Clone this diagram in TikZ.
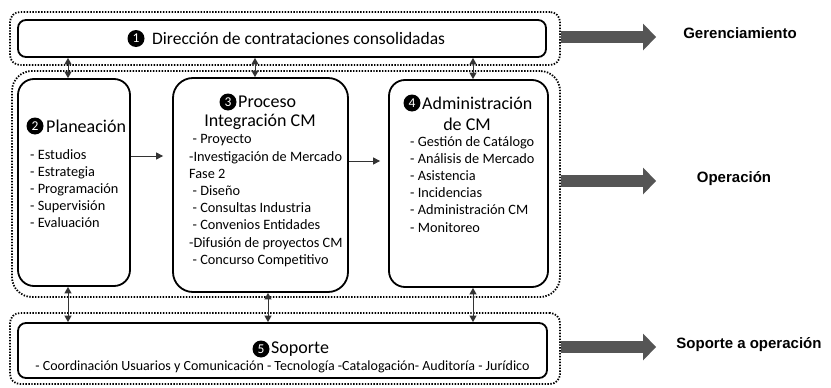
\documentclass[tikz,border=0pt]{standalone}
\usepackage{fontspec}
\setmainfont{Carlito}
\newfontfamily\labfont{Liberation Sans}
\usetikzlibrary{arrows.meta,calc}
\definecolor{arrgray}{HTML}{555555}
\definecolor{lnk}{HTML}{333333}
\begin{document}
\begin{tikzpicture}[x=1pt,y=-1pt,
  solidbox/.style={draw=black,line width=1.8pt,rounded corners=#1,inner sep=0pt},
  solidbox/.default=8pt,
  dotbox/.style={draw=black,line width=1.8pt,dash pattern=on 1.4pt off 1.5pt,rounded corners=#1,inner sep=0pt},
  dotbox/.default=10pt,
  numc/.style={circle,fill=black,text=white,inner sep=0pt,minimum size=17pt,font=\fontsize{13.5}{13.5}\selectfont},
  headtxt/.style={inner sep=0pt,font=\fontsize{18}{21}\selectfont},
  itemtxt/.style={inner sep=0pt,align=left,font=\fontsize{14.3}{17.2}\selectfont},
  dbl/.style={line width=1pt,draw=lnk,{Triangle[length=6.5pt,width=7pt]}-{Triangle[length=6.5pt,width=7pt]}},
  harr/.style={line width=1pt,draw=lnk,-{Triangle[length=7pt,width=7pt]}},
  bigarr/.style={line width=12pt,draw=arrgray,-{Triangle[length=13pt,width=27pt,line width=0pt]}},
  lab/.style={inner sep=0pt,font=\labfont\bfseries\fontsize{15}{18}\selectfont}
]
\useasboundingbox (0,0) rectangle (831,388);
\fill[white] (0,0) rectangle (831,388);

% dotted group boxes
\node[dotbox] (topdot) at (285,38.5) [minimum width=550pt,minimum height=53pt] {};
\node[dotbox=20pt] (middot) at (286,184) [minimum width=548pt,minimum height=226pt] {};
\node[dotbox] (botdot) at (285,348.5) [minimum width=550pt,minimum height=71pt] {};

% solid boxes
\node[solidbox] (top) at (282,38.5) [minimum width=528pt,minimum height=37pt] {};
\node[solidbox=16pt] (plan) at (74,182.5) [minimum width=112pt,minimum height=207pt] {};
\node[solidbox=20pt] (proc) at (260.5,185) [minimum width=175pt,minimum height=214pt] {};
\node[solidbox=16pt] (adm) at (468.5,183.5) [minimum width=159pt,minimum height=207pt] {};
\node[solidbox] (sop) at (282.5,350.5) [minimum width=529pt,minimum height=55pt] {};

% box 1
\node[numc] (n1) at (136,38.5) {1};
\node[headtxt,anchor=west,font=\fontsize{17.5}{21}\selectfont] (t1) at (152,38.5) {Dirección de contrataciones consolidadas};

% box 2
\node[numc] (n2) at (35,126) {2};
\node[headtxt,anchor=west] (t2) at (46,126) {Planeación};
\node[itemtxt,anchor=north west] (l2) at (30,149) {- Estudios\\- Estrategia\\- Programación\\- Supervisión\\- Evaluación};

% box 3
\node[numc] (n3) at (228,102) {3};
\node[headtxt,anchor=west] (t3) at (238,102) {Proceso};
\node[headtxt] (t3b) at (260,122) {Integración CM};
\node[itemtxt,anchor=north west] (l3) at (189,134.5) {\hspace*{3.5pt}- Proyecto\\-Investigación de Mercado\\Fase 2\\\hspace*{3.5pt}- Diseño\\\hspace*{3.5pt}- Consultas Industria\\\hspace*{3.5pt}- Convenios Entidades\\-Difusión de proyectos CM\\\hspace*{3.5pt}- Concurso Competitivo};

% box 4
\node[numc] (n4) at (412,103) {4};
\node[headtxt,anchor=west] (t4) at (422,103) {Administración};
\node[headtxt] (t4b) at (467,124) {de CM};
\node[itemtxt,anchor=north west] (l4) at (410,136) {- Gestión de Catálogo\\- Análisis de Mercado\\- Asistencia\\- Incidencias\\- Administración CM\\- Monitoreo};

% box 5
\node[numc] (n5) at (261,349) {5};
\node[headtxt,anchor=west] (t5) at (271,349) {Soporte};
\node[inner sep=0pt,font=\fontsize{14}{16}\selectfont] (t5b) at (282.5,367) {- Coordinación Usuarios y Comunicación - Tecnología -Catalogación- Auditoría - Jurídico};

% connector x/y positions
\coordinate (xa) at (68,0);
\coordinate (xb) at (255,0);
\coordinate (xc) at (473,0);
\coordinate (xe) at (268,0);
\coordinate (ya) at (0,156);
\coordinate (yb) at (0,161);

\draw[dbl] (top.south -| xa) -- (plan.north -| xa);
\draw[dbl] (top.south -| xb) -- (proc.north -| xb);
\draw[dbl] (top.south -| xc) -- (adm.north -| xc);
\draw[dbl] (plan.south -| xa) -- (sop.north -| xa);
\draw[dbl] (proc.south -| xe) -- (sop.north -| xe);
\draw[dbl] (adm.south -| xc) -- (sop.north -| xc);

\draw[harr,shorten >=9pt] (plan.east |- ya) -- (proc.west |- ya);
\draw[harr,shorten >=8pt] (proc.east |- yb) -- (adm.west |- yb);

% level labels and big arrows
\node[lab] (g1) at (740,33) {Gerenciamiento};
\node[lab] (g2) at (734,179) {Operación};
\node[lab] (g3) at (749,345) {Soporte a operación};
\coordinate (e1) at (656,37);
\coordinate (e2) at (656,181);
\coordinate (e3) at (656,347);
\draw[bigarr] (topdot.east |- e1) -- (e1);
\draw[bigarr] (middot.east |- e2) -- (e2);
\draw[bigarr] (botdot.east |- e3) -- (e3);
\end{tikzpicture}
\end{document}
